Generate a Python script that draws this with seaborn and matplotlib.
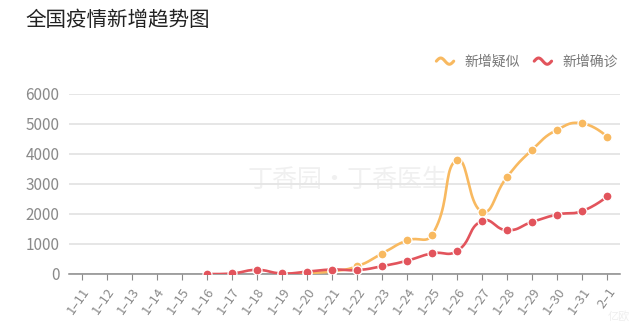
import numpy as np
import pandas as pd
import matplotlib
matplotlib.use("Agg")
import matplotlib.pyplot as plt
from matplotlib.lines import Line2D
from matplotlib.legend_handler import HandlerBase
import seaborn as sns

sns.set_theme(style="white")
plt.rcParams["font.family"] = ["Noto Sans CJK SC", "DejaVu Sans"]

# Daily figures, 1-11 .. 2-1 (None = not reported)
dates = ["1–11", "1–12", "1–13", "1–14", "1–15", "1–16", "1–17", "1–18", "1–19",
         "1–20", "1–21", "1–22", "1–23", "1–24", "1–25", "1–26", "1–27", "1–28",
         "1–29", "1–30", "1–31", "2–1"]
suspected = [None, None, None, None, None, None, None, None, 0,
             27, 90, 257, 680, 1118, 1309, 3806, 2077, 3248,
             4148, 4812, 5019, 4562]
confirmed = [None, None, None, None, None, 4, 17, 136, 19,
             77, 149, 131, 259, 444, 688, 769, 1771, 1459,
             1737, 1982, 2102, 2590]
yticks = [0, 1000, 2000, 3000, 4000, 5000, 6000]

series_names = ["新增疑似", "新增确诊"]
series_colors = ["#f8b960", "#e2545c"]


def smooth_curve(xs, ys, smooth=0.5, n=24):
    """Cubic Bezier smoothing through every point."""
    xs = np.asarray(xs, float)
    ys = np.asarray(ys, float)
    pts = np.column_stack([xs, ys])
    m = len(pts)
    if m < 2:
        return xs, ys
    cps = []
    for i in range(m):
        p = pts[i]
        if i == 0 or i == m - 1:
            cps.append((p, p))
            continue
        prev, nxt = pts[i - 1], pts[i + 1]
        v = (nxt - prev) * smooth
        d0 = np.linalg.norm(p - prev)
        d1 = np.linalg.norm(nxt - p)
        s = d0 + d1
        r0 = d0 / s if s else 0.5
        r1 = d1 / s if s else 0.5
        cps.append((p - v * r0, p + v * r1))
    out = []
    t = np.linspace(0, 1, n)[:, None]
    for i in range(m - 1):
        p0 = pts[i]
        c0 = cps[i][1]
        c1 = cps[i + 1][0]
        p1 = pts[i + 1]
        seg = ((1 - t) ** 3) * p0 + 3 * ((1 - t) ** 2) * t * c0 + 3 * (1 - t) * t ** 2 * c1 + t ** 3 * p1
        out.append(seg if i == 0 else seg[1:])
    out = np.vstack(out)
    return out[:, 0], out[:, 1]


fig = plt.figure(figsize=(6.4, 3.28), dpi=100)
fig.patch.set_facecolor("white")
ax = fig.add_axes([69 / 640, 54 / 328, 551 / 640, 180 / 328])

# smoothing is done in screen-like units so both axes weigh the same
xscale = 25.0
yscale = 0.03

for name, vals, color in zip(series_names, [suspected, confirmed], series_colors):
    df = pd.DataFrame({"pos": np.arange(len(dates)), "value": vals}).dropna()
    sx, sy = smooth_curve(df["pos"] * xscale, df["value"] * yscale)
    curve = pd.DataFrame({"pos": sx / xscale, "value": sy / yscale})
    sns.lineplot(data=curve, x="pos", y="value", ax=ax, color=color, lw=1.9,
                 sort=False, estimator=None, zorder=3)
    sns.scatterplot(data=df, x="pos", y="value", ax=ax, color=color, s=42,
                    edgecolor="white", linewidth=0.9, zorder=4)

ax.set_xlim(-0.5, len(dates) - 0.5)
ax.set_ylim(0, 6000)
ax.set_yticks(yticks)
ax.set_yticklabels([str(v) for v in yticks], fontsize=11, color="#8a8a8a")
ax.set_xticks(np.arange(len(dates)))
ax.set_xticklabels(dates, fontsize=9.5, color="#8a8a8a", rotation=55,
                   ha="right", va="top", rotation_mode="anchor")
ax.set_xlabel("")
ax.set_ylabel("")
ax.grid(axis="y", color="#e4e4e4", lw=1.3)
ax.grid(axis="x", visible=False)
for side in ["top", "right", "left"]:
    ax.spines[side].set_visible(False)
ax.spines["bottom"].set_color("#8a8a8a")
ax.spines["bottom"].set_linewidth(1.1)
ax.tick_params(axis="x", which="major", bottom=True, length=4, width=0.8,
               color="#8a8a8a", pad=4)
ax.tick_params(axis="y", length=0, pad=7)
ax.set_axisbelow(True)

# faint watermark
ax.text(0.505, 0.52, "丁香园·丁香医生", transform=ax.transAxes, fontsize=18,
        color="#f0f0f0", ha="center", va="center", fontweight="light", zorder=0)
fig.text(0.985, 0.02, "亿欧", fontsize=8, color="#eeeeee", ha="right", va="bottom")

# Title
fig.text(25 / 640, 1 - 20 / 328, "全国疫情新增趋势图", fontsize=14.8,
         color="#222222", ha="left", va="center")


class WaveHandler(HandlerBase):
    def create_artists(self, legend, orig_handle, xdescent, ydescent,
                       width, height, fontsize, trans):
        t = np.linspace(0, 1, 40)
        xs = -xdescent + t * width
        ys = -ydescent + height / 2 + np.sin(t * 2 * np.pi) * height * 0.32
        line = Line2D(xs, ys, color=orig_handle.get_color(), lw=2.2,
                      solid_capstyle="round")
        line.set_transform(trans)
        return [line]


handles = [Line2D([], [], color=c) for c in series_colors]
fig.legend(handles, series_names, loc="center right",
           bbox_to_anchor=(630 / 640, 1 - 62 / 328), ncol=2, frameon=False,
           handler_map={Line2D: WaveHandler()}, handlelength=1.25,
           handletextpad=0.75, columnspacing=1.05, fontsize=10,
           labelcolor="#777777")

fig.savefig("out.png", dpi=100, facecolor="white")
